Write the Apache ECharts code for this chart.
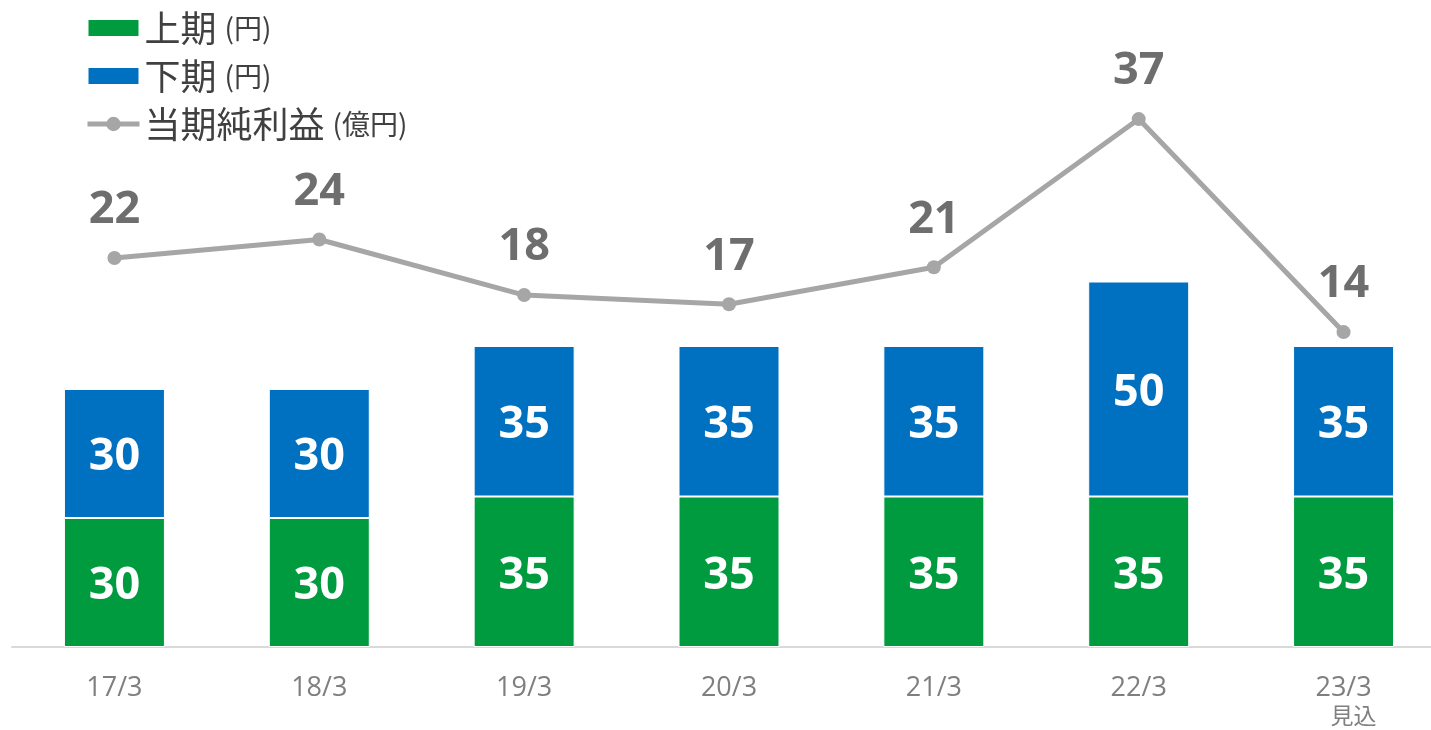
<!DOCTYPE html>
<html>
<head>
<meta charset="utf-8">
<script src="https://cdn.jsdelivr.net/npm/echarts@6/dist/echarts.min.js"></script>
<style>
  html, body { margin: 0; padding: 0; background: #fff; }
  #main { width: 1431px; height: 730px; }
</style>
</head>
<body>
<div id="main"></div>
<script>
// 配当と純利益
var categories = ['17/3', '18/3', '19/3', '20/3', '21/3', '22/3', '23/3'];
var firstHalf = [30, 30, 35, 35, 35, 35, 35];   // 上期 (円)
var secondHalf = [30, 30, 35, 35, 35, 50, 35];  // 下期 (円)
var netIncome = [22, 24, 18, 17, 21, 37, 14];   // 当期純利益 (億円)

var dom = document.getElementById('main');
var myChart = echarts.init(dom);

var numFont = '"Open Sans", "Noto Sans", sans-serif';
var jpFont = '"Noto Sans CJK JP", "Noto Sans", sans-serif';

var option = {
    backgroundColor: '#fff',
    animation: false,
    legend: {
        orient: 'vertical',
        left: 80,
        top: 5,
        itemWidth: 52,
        itemHeight: 18,
        itemGap: 12,
        lineStyle: {width: 5},
        data: [
            {name: '上期', icon: 'rect'},
            {name: '下期', icon: 'rect'},
            {name: '当期純利益'}
        ],
        formatter: function (name) {
            var unit = name === '当期純利益' ? '(億円)' : '(円)';
            return '{a|' + name + '}{b|' + unit + '}';
        },
        textStyle: {
            rich: {
                a: {fontFamily: jpFont, fontSize: 36, color: '#404040', lineHeight: 40, verticalAlign: 'middle'},
                b: {fontFamily: jpFont, fontSize: 28, color: '#404040', lineHeight: 40, verticalAlign: 'middle', padding: [0, 0, 0, 8]}
            }
        }
    },
    grid: {
        left: 12,
        width: 1434,
        top: 45,
        bottom: 83,
        outerBoundsMode: 'none'
    },
    xAxis: {
        type: 'category',
        data: categories,
        axisTick: {show: false},
        axisLine: {lineStyle: {color: '#D9D9D9', width: 2}},
        axisLabel: {
            margin: 28,
            color: '#7F7F7F',
            fontFamily: numFont,
            fontSize: 27,
            formatter: function (v) {
                return v === '23/3' ? v + '\n{s|見込}' : v;
            },
            rich: {
                s: {fontFamily: jpFont, fontSize: 23, color: '#7F7F7F', padding: [0, 0, 0, 20], lineHeight: 26}
            }
        }
    },
    yAxis: [
        {type: 'value', min: 0, max: 140, show: false, splitLine: {show: false}},
        {type: 'value', min: -20, max: 45, show: false, splitLine: {show: false}}
    ],
    series: [
        {
            name: '上期',
            type: 'bar',
            stack: 'div',
            barWidth: 101,
            data: firstHalf,
            itemStyle: {color: '#009B3E', borderColor: '#fff', borderWidth: 1},
            label: {
                show: true,
                position: 'inside',
                offset: [0, 4],
                color: '#fff',
                fontFamily: numFont,
                fontWeight: 'bold',
                fontSize: 45
            }
        },
        {
            name: '下期',
            type: 'bar',
            stack: 'div',
            barWidth: 101,
            data: secondHalf,
            itemStyle: {color: '#0070C0', borderColor: '#fff', borderWidth: 1},
            label: {
                show: true,
                position: 'inside',
                offset: [0, 4],
                color: '#fff',
                fontFamily: numFont,
                fontWeight: 'bold',
                fontSize: 45
            }
        },
        {
            name: '当期純利益',
            type: 'line',
            yAxisIndex: 1,
            data: netIncome,
            symbol: 'circle',
            symbolSize: 14,
            itemStyle: {color: '#A6A6A6'},
            lineStyle: {color: '#A6A6A6', width: 5},
            label: {
                show: true,
                position: 'top',
                distance: 18,
                color: '#6E6E6E',
                fontFamily: numFont,
                fontWeight: 'bold',
                fontSize: 45
            }
        }
    ]
};

if (option && typeof option === 'object') {
    myChart.setOption(option, true);
}
</script>
</body>
</html>
